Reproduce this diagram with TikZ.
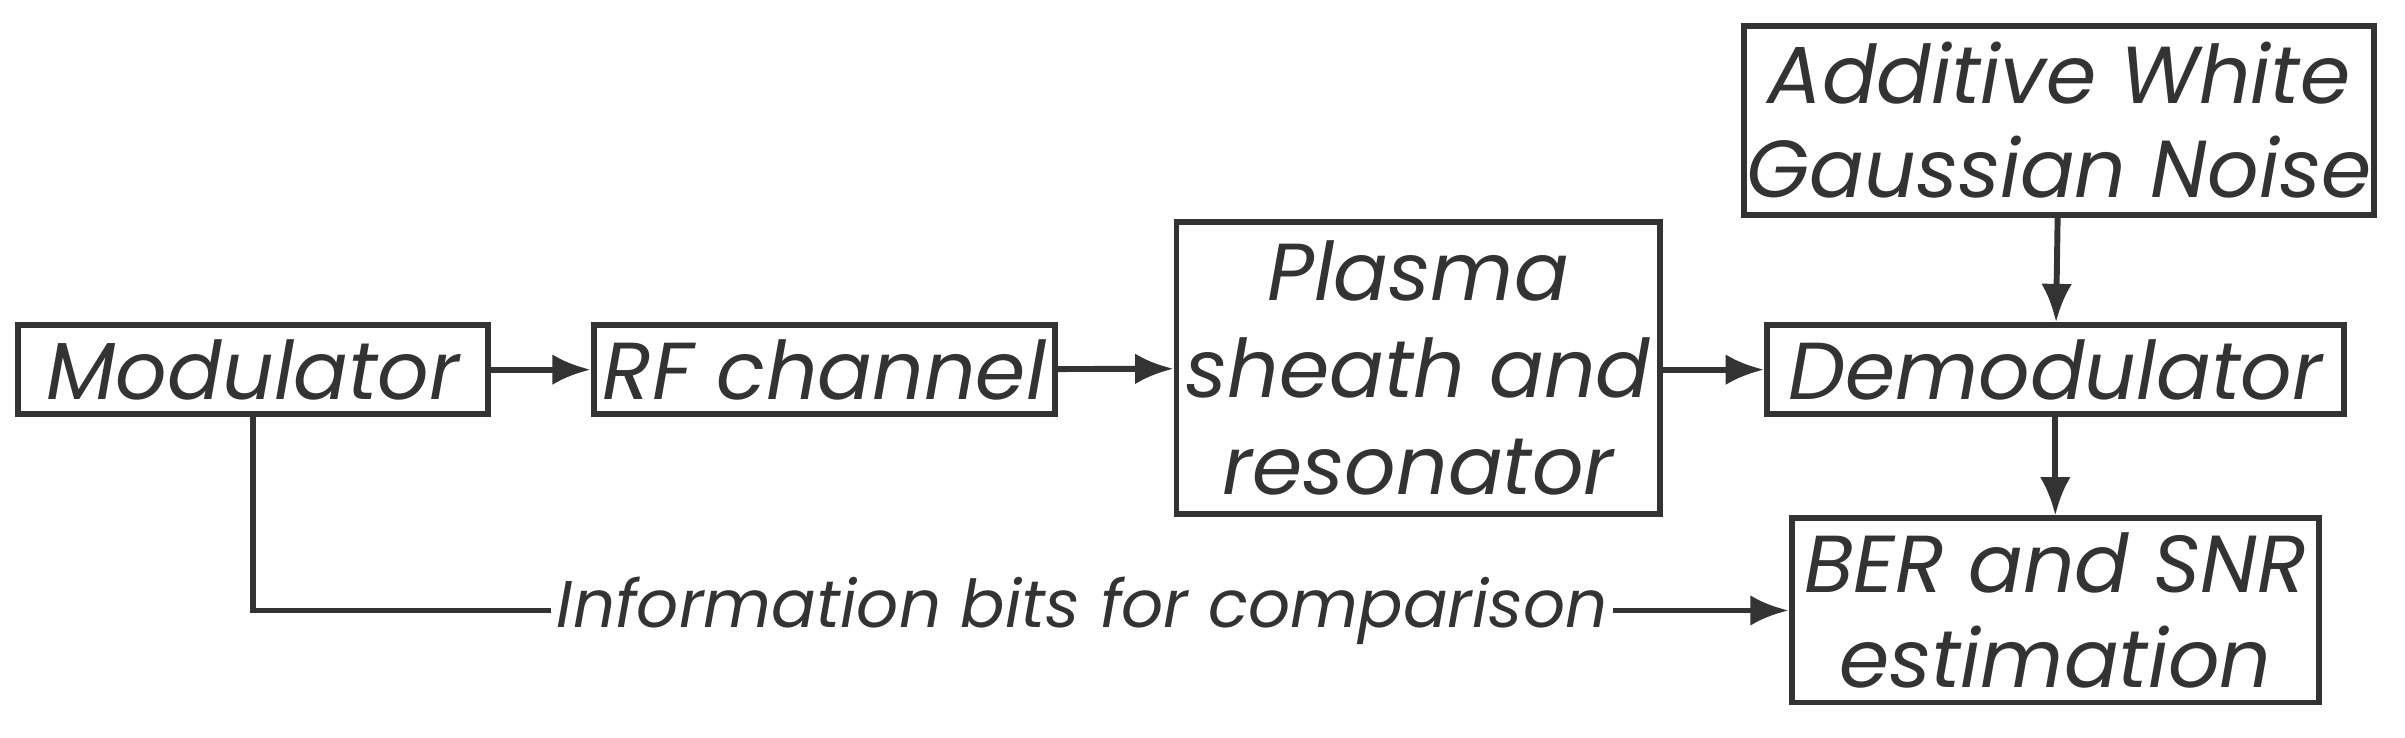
\documentclass[tikz,border=0pt]{standalone}
\usepackage{fontspec}
\setmainfont{Poppins}
\usetikzlibrary{positioning,arrows.meta}
\definecolor{ink}{HTML}{333333}
\begin{document}
\begin{tikzpicture}[x=0.02cm,y=-0.02cm,
    blk/.style={draw=ink, text=ink, line width=2.2pt, inner sep=0pt, align=center,
                font=\fontsize{30}{35}\selectfont\itshape},
    arr/.style={-{Latex[length=0.5cm,width=0.4cm]}, draw=ink, line width=2.2pt}]
    \useasboundingbox (0,0) rectangle (1568,481);

    % Blocks
    \node[blk, minimum width=6.12cm, minimum height=1.16cm] (mod) at (165,241) {Modulator};
    \node[blk, minimum width=6.02cm, minimum height=1.16cm] (rf) at (537.5,241) {RF channel};
    \node[blk, minimum width=6.3cm, minimum height=3.8cm, font=\fontsize{30}{36}\selectfont\itshape] (pl) at (924.5,240) {Plasma\\sheath and\\resonator};
    \node[blk, minimum width=8.22cm, minimum height=2.46cm] (awgn) at (1342.5,78.5) {Additive White\\Gaussian Noise};
    \node[blk, minimum width=7.52cm, minimum height=1.16cm] (dem) at (1340,241) {Demodulator};
    \node[blk, minimum width=6.88cm, minimum height=2.4cm] (ber) at (1340,398) {BER and SNR\\estimation};
    \coordinate (corner) at (165,398);

    % Connectors
    \draw[arr] (mod) -- (rf);
    \draw[arr] (rf) -- (pl);
    \draw[arr] (pl.east |- dem) -- (dem);
    \draw[arr] (awgn) -- (dem);
    \draw[arr] (dem) -- (ber);
    \draw[arr] (mod.south -| corner) -- (corner) -- node[fill=white, text=ink, inner sep=2pt,
        font=\fontsize{24.5}{28}\selectfont\itshape, pos=0.54] {Information bits for comparison} (ber.west |- corner);
\end{tikzpicture}
\end{document}
